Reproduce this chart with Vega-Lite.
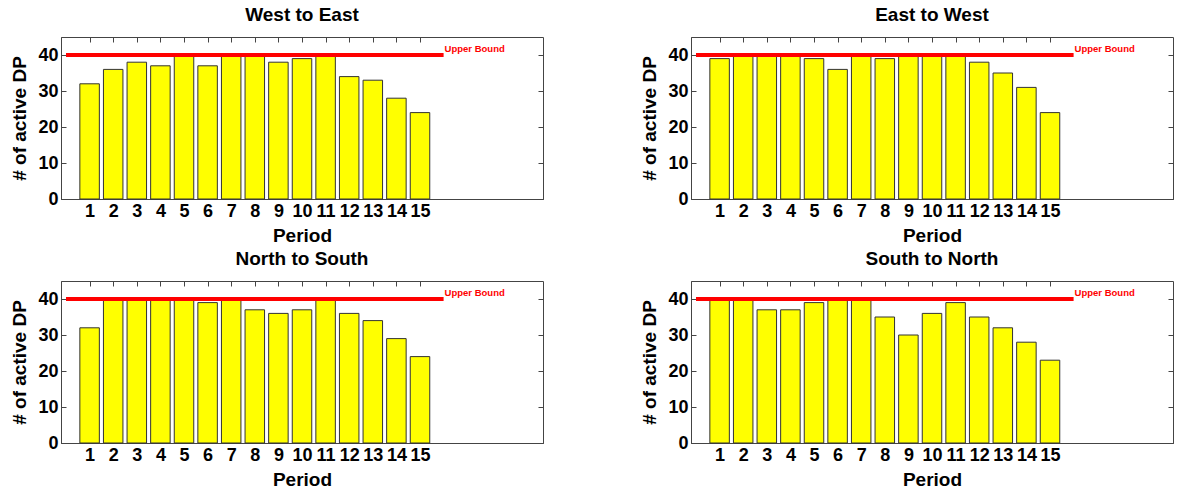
{
  "$schema": "https://vega.github.io/schema/vega-lite/v6.json",
  "padding": {"left": 10, "top": 5, "right": 0, "bottom": 0},
  "background": "white",
  "datasets": {
    "bars": [
      {"dir": "West to East", "period": 1, "count": 32},
      {"dir": "West to East", "period": 2, "count": 36},
      {"dir": "West to East", "period": 3, "count": 38},
      {"dir": "West to East", "period": 4, "count": 37},
      {"dir": "West to East", "period": 5, "count": 40},
      {"dir": "West to East", "period": 6, "count": 37},
      {"dir": "West to East", "period": 7, "count": 40},
      {"dir": "West to East", "period": 8, "count": 40},
      {"dir": "West to East", "period": 9, "count": 38},
      {"dir": "West to East", "period": 10, "count": 39},
      {"dir": "West to East", "period": 11, "count": 40},
      {"dir": "West to East", "period": 12, "count": 34},
      {"dir": "West to East", "period": 13, "count": 33},
      {"dir": "West to East", "period": 14, "count": 28},
      {"dir": "West to East", "period": 15, "count": 24},
      {"dir": "East to West", "period": 1, "count": 39},
      {"dir": "East to West", "period": 2, "count": 40},
      {"dir": "East to West", "period": 3, "count": 40},
      {"dir": "East to West", "period": 4, "count": 40},
      {"dir": "East to West", "period": 5, "count": 39},
      {"dir": "East to West", "period": 6, "count": 36},
      {"dir": "East to West", "period": 7, "count": 40},
      {"dir": "East to West", "period": 8, "count": 39},
      {"dir": "East to West", "period": 9, "count": 40},
      {"dir": "East to West", "period": 10, "count": 40},
      {"dir": "East to West", "period": 11, "count": 40},
      {"dir": "East to West", "period": 12, "count": 38},
      {"dir": "East to West", "period": 13, "count": 35},
      {"dir": "East to West", "period": 14, "count": 31},
      {"dir": "East to West", "period": 15, "count": 24},
      {"dir": "North to South", "period": 1, "count": 32},
      {"dir": "North to South", "period": 2, "count": 40},
      {"dir": "North to South", "period": 3, "count": 40},
      {"dir": "North to South", "period": 4, "count": 40},
      {"dir": "North to South", "period": 5, "count": 40},
      {"dir": "North to South", "period": 6, "count": 39},
      {"dir": "North to South", "period": 7, "count": 40},
      {"dir": "North to South", "period": 8, "count": 37},
      {"dir": "North to South", "period": 9, "count": 36},
      {"dir": "North to South", "period": 10, "count": 37},
      {"dir": "North to South", "period": 11, "count": 40},
      {"dir": "North to South", "period": 12, "count": 36},
      {"dir": "North to South", "period": 13, "count": 34},
      {"dir": "North to South", "period": 14, "count": 29},
      {"dir": "North to South", "period": 15, "count": 24},
      {"dir": "South to North", "period": 1, "count": 40},
      {"dir": "South to North", "period": 2, "count": 40},
      {"dir": "South to North", "period": 3, "count": 37},
      {"dir": "South to North", "period": 4, "count": 37},
      {"dir": "South to North", "period": 5, "count": 39},
      {"dir": "South to North", "period": 6, "count": 40},
      {"dir": "South to North", "period": 7, "count": 40},
      {"dir": "South to North", "period": 8, "count": 35},
      {"dir": "South to North", "period": 9, "count": 30},
      {"dir": "South to North", "period": 10, "count": 36},
      {"dir": "South to North", "period": 11, "count": 39},
      {"dir": "South to North", "period": 12, "count": 35},
      {"dir": "South to North", "period": 13, "count": 32},
      {"dir": "South to North", "period": 14, "count": 28},
      {"dir": "South to North", "period": 15, "count": 23}
    ],
    "bound": [{"bound": 40, "start": 0, "end": 16, "label": "Upper Bound"}]
  },
  "columns": 2,
  "spacing": {"column": 96, "row": 3},
  "concat": [
    {
      "title": {"text": "West to East"},
      "width": 482, "height": 162,
      "layer": [
        {"data": {"name": "bars"}, "transform": [{"filter": "datum.dir === 'West to East'"}],
         "mark": {"type": "bar", "width": 19.5, "fill": "#ffff00", "stroke": "#333333", "strokeWidth": 1},
         "encoding": {
           "x": {"field": "period", "type": "quantitative", "scale": {"domain": [0, 20], "nice": false}, "axis": {"values": [1,2,3,4,5,6,7,8,9,10,11,12,13,14,15], "title": "Period"}},
           "y": {"field": "count", "type": "quantitative", "scale": {"domain": [0, 45], "nice": false}, "axis": {"values": [0,10,20,30,40], "title": "# of active DP"}}
         }},
        {"data": {"name": "bound"}, "mark": {"type": "rule", "color": "#ff0000", "strokeWidth": 4},
         "encoding": {
           "x": {"field": "start", "type": "quantitative", "axis": {"orient": "top", "labels": false, "title": null, "domain": false, "minExtent": 0, "maxExtent": 0, "values": [1,2,3,4,5,6,7,8,9,10,11,12,13,14,15]}},
           "x2": {"field": "end"},
           "y": {"field": "bound", "type": "quantitative", "axis": {"orient": "right", "labels": false, "title": null, "domain": false, "minExtent": 0, "maxExtent": 0, "values": [0,10,20,30,40]}}
         }},
        {"data": {"name": "bound"}, "mark": {"type": "text", "color": "#ff0000", "fontSize": 9.5, "fontWeight": "bold", "align": "left", "baseline": "middle", "dx": 1, "dy": -6.5, "font": "Liberation Sans"},
         "encoding": {
           "x": {"field": "end", "type": "quantitative", "axis": null},
           "y": {"field": "bound", "type": "quantitative", "axis": null},
           "text": {"field": "label"}
         }}
      ],
      "resolve": {"axis": {"x": "independent", "y": "independent"}}
    },
    {
      "title": {"text": "East to West"},
      "width": 482, "height": 162,
      "layer": [
        {"data": {"name": "bars"}, "transform": [{"filter": "datum.dir === 'East to West'"}],
         "mark": {"type": "bar", "width": 19.5, "fill": "#ffff00", "stroke": "#333333", "strokeWidth": 1},
         "encoding": {
           "x": {"field": "period", "type": "quantitative", "scale": {"domain": [0, 20], "nice": false}, "axis": {"values": [1,2,3,4,5,6,7,8,9,10,11,12,13,14,15], "title": "Period"}},
           "y": {"field": "count", "type": "quantitative", "scale": {"domain": [0, 45], "nice": false}, "axis": {"values": [0,10,20,30,40], "title": "# of active DP"}}
         }},
        {"data": {"name": "bound"}, "mark": {"type": "rule", "color": "#ff0000", "strokeWidth": 4},
         "encoding": {
           "x": {"field": "start", "type": "quantitative", "axis": {"orient": "top", "labels": false, "title": null, "domain": false, "minExtent": 0, "maxExtent": 0, "values": [1,2,3,4,5,6,7,8,9,10,11,12,13,14,15]}},
           "x2": {"field": "end"},
           "y": {"field": "bound", "type": "quantitative", "axis": {"orient": "right", "labels": false, "title": null, "domain": false, "minExtent": 0, "maxExtent": 0, "values": [0,10,20,30,40]}}
         }},
        {"data": {"name": "bound"}, "mark": {"type": "text", "color": "#ff0000", "fontSize": 9.5, "fontWeight": "bold", "align": "left", "baseline": "middle", "dx": 1, "dy": -6.5, "font": "Liberation Sans"},
         "encoding": {
           "x": {"field": "end", "type": "quantitative", "axis": null},
           "y": {"field": "bound", "type": "quantitative", "axis": null},
           "text": {"field": "label"}
         }}
      ],
      "resolve": {"axis": {"x": "independent", "y": "independent"}}
    },
    {
      "title": {"text": "North to South"},
      "width": 482, "height": 162,
      "layer": [
        {"data": {"name": "bars"}, "transform": [{"filter": "datum.dir === 'North to South'"}],
         "mark": {"type": "bar", "width": 19.5, "fill": "#ffff00", "stroke": "#333333", "strokeWidth": 1},
         "encoding": {
           "x": {"field": "period", "type": "quantitative", "scale": {"domain": [0, 20], "nice": false}, "axis": {"values": [1,2,3,4,5,6,7,8,9,10,11,12,13,14,15], "title": "Period"}},
           "y": {"field": "count", "type": "quantitative", "scale": {"domain": [0, 45], "nice": false}, "axis": {"values": [0,10,20,30,40], "title": "# of active DP"}}
         }},
        {"data": {"name": "bound"}, "mark": {"type": "rule", "color": "#ff0000", "strokeWidth": 4},
         "encoding": {
           "x": {"field": "start", "type": "quantitative", "axis": {"orient": "top", "labels": false, "title": null, "domain": false, "minExtent": 0, "maxExtent": 0, "values": [1,2,3,4,5,6,7,8,9,10,11,12,13,14,15]}},
           "x2": {"field": "end"},
           "y": {"field": "bound", "type": "quantitative", "axis": {"orient": "right", "labels": false, "title": null, "domain": false, "minExtent": 0, "maxExtent": 0, "values": [0,10,20,30,40]}}
         }},
        {"data": {"name": "bound"}, "mark": {"type": "text", "color": "#ff0000", "fontSize": 9.5, "fontWeight": "bold", "align": "left", "baseline": "middle", "dx": 1, "dy": -6.5, "font": "Liberation Sans"},
         "encoding": {
           "x": {"field": "end", "type": "quantitative", "axis": null},
           "y": {"field": "bound", "type": "quantitative", "axis": null},
           "text": {"field": "label"}
         }}
      ],
      "resolve": {"axis": {"x": "independent", "y": "independent"}}
    },
    {
      "title": {"text": "South to North"},
      "width": 482, "height": 162,
      "layer": [
        {"data": {"name": "bars"}, "transform": [{"filter": "datum.dir === 'South to North'"}],
         "mark": {"type": "bar", "width": 19.5, "fill": "#ffff00", "stroke": "#333333", "strokeWidth": 1},
         "encoding": {
           "x": {"field": "period", "type": "quantitative", "scale": {"domain": [0, 20], "nice": false}, "axis": {"values": [1,2,3,4,5,6,7,8,9,10,11,12,13,14,15], "title": "Period"}},
           "y": {"field": "count", "type": "quantitative", "scale": {"domain": [0, 45], "nice": false}, "axis": {"values": [0,10,20,30,40], "title": "# of active DP"}}
         }},
        {"data": {"name": "bound"}, "mark": {"type": "rule", "color": "#ff0000", "strokeWidth": 4},
         "encoding": {
           "x": {"field": "start", "type": "quantitative", "axis": {"orient": "top", "labels": false, "title": null, "domain": false, "minExtent": 0, "maxExtent": 0, "values": [1,2,3,4,5,6,7,8,9,10,11,12,13,14,15]}},
           "x2": {"field": "end"},
           "y": {"field": "bound", "type": "quantitative", "axis": {"orient": "right", "labels": false, "title": null, "domain": false, "minExtent": 0, "maxExtent": 0, "values": [0,10,20,30,40]}}
         }},
        {"data": {"name": "bound"}, "mark": {"type": "text", "color": "#ff0000", "fontSize": 9.5, "fontWeight": "bold", "align": "left", "baseline": "middle", "dx": 1, "dy": -6.5, "font": "Liberation Sans"},
         "encoding": {
           "x": {"field": "end", "type": "quantitative", "axis": null},
           "y": {"field": "bound", "type": "quantitative", "axis": null},
           "text": {"field": "label"}
         }}
      ],
      "resolve": {"axis": {"x": "independent", "y": "independent"}}
    }
  ],
  "config": {
    "font": "Liberation Sans",
    "view": {"stroke": "#444444", "strokeWidth": 1},
    "title": {"fontSize": 19, "fontWeight": "bold", "color": "#000000", "offset": 12, "font": "Liberation Sans"},
    "axis": {
      "grid": false,
      "labelFont": "Liberation Sans", "labelFontSize": 18, "labelFontWeight": "bold", "labelColor": "#000000",
      "titleFont": "Liberation Sans", "titleFontSize": 19, "titleFontWeight": "bold", "titleColor": "#000000",
      "domainColor": "#444444", "tickColor": "#444444", "tickSize": -5, "labelPadding": 8, "labelFlush": false, "labelOverlap": false
    },
    "axisX": {"titlePadding": 6, "labelPadding": 8},
    "axisY": {"titlePadding": 8}
  }
}
